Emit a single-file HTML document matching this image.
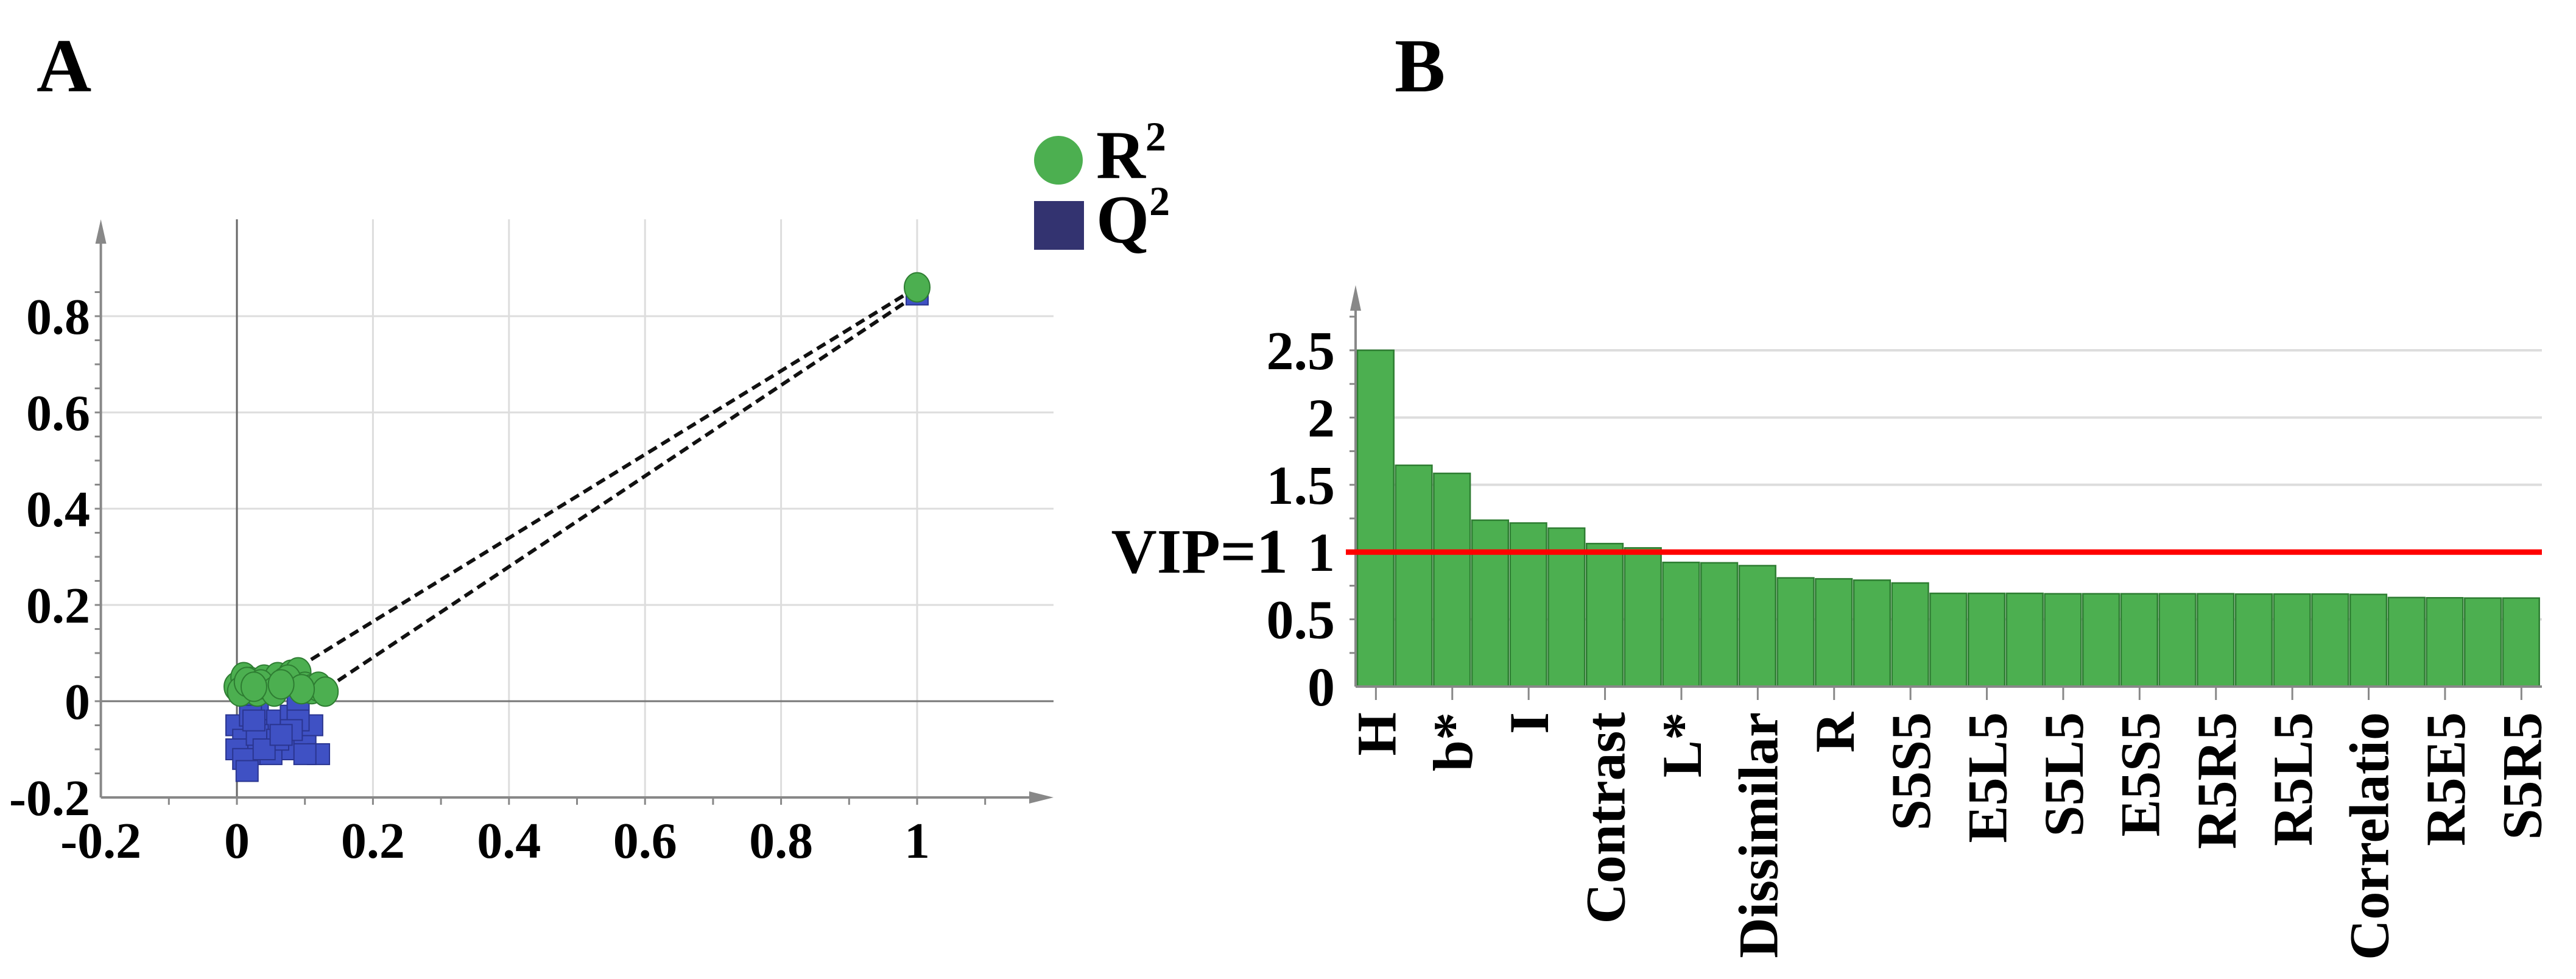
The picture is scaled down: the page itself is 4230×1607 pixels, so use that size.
<!DOCTYPE html>
<html><head><meta charset="utf-8">
<style>
html,body{margin:0;padding:0;background:#fff;}
svg{display:block;font-family:"Liberation Serif",serif;font-weight:bold;}
</style></head>
<body>
<svg id="svg" width="4230" height="1607" viewBox="0 0 4230 1607" xmlns="http://www.w3.org/2000/svg">
<text x="60" y="150" font-size="125">A</text>
<text x="2290" y="150" font-size="125">B</text>
<g id="chartA"></g>
<g id="chartB"></g>
<g>
 <g>
  <circle cx="1738" cy="263" r="40" fill="#4caf50"/>
  <text x="1800" y="292" font-size="112">R<tspan font-size="68" dy="-45">2</tspan></text>
 </g>
 <g>
  <rect x="1698" y="330" width="82" height="80" fill="#333370"/>
  <text x="1800" y="398" font-size="112">Q<tspan font-size="68" dy="-45">2</tspan></text>
 </g>
</g>
</svg>
<script>
const NS='http://www.w3.org/2000/svg';
function mk(tag,attrs,parent){const e=document.createElementNS(NS,tag);for(const k in attrs)e.setAttribute(k,attrs[k]);parent.appendChild(e);return e;}

// ---------- Chart A data ----------
const r2X=[0.0,0.01,0.02,0.03,0.04,0.05,0.06,0.07,0.08,0.09,0.1,0.11,0.12,0.13,0.005,0.015,0.035,0.055,0.075,0.095,0.025,0.065,1.0];
const r2Y=[0.03,0.05,0.04,0.02,0.045,0.03,0.05,0.04,0.055,0.06,0.03,0.025,0.03,0.02,0.02,0.04,0.035,0.02,0.045,0.025,0.03,0.035,0.86];
const q2X=[0.0,0.01,0.02,0.03,0.04,0.05,0.06,0.07,0.08,0.09,0.1,0.11,0.12,0.0,0.01,0.02,0.03,0.05,0.06,0.09,0.1,0.015,0.04,0.08,0.025,0.065,1.0];
const q2Y=[-0.05,-0.08,-0.11,-0.02,-0.06,-0.09,-0.04,-0.1,-0.03,0.0,-0.07,-0.05,-0.11,-0.1,-0.12,-0.03,-0.07,-0.11,-0.08,-0.04,-0.11,-0.145,-0.1,-0.06,-0.04,-0.07,0.845];
const xTicksA=[-0.2,0,0.2,0.4,0.6,0.8,1];
const yTicksA=[-0.2,0,0.2,0.4,0.6,0.8];
const lineR2=[[0.09,0.07],[1.0,0.86]];
const lineQ2=[[0.13,0.025],[1.0,0.845]];

const ax=v=>389+(v)*1117;
const ay=v=>1151-v*790;
const A=document.getElementById('chartA');
for(const t of [0.2,0.4,0.6,0.8,1]){const l=mk('line',{x1:ax(t),x2:ax(t),y1:ay(-0.2),y2:360,stroke:'#ddd','stroke-width':3},A);
}
for(const t of [0.2,0.4,0.6,0.8]){const l=mk('line',{x1:ax(-0.2),x2:1730,y1:ay(t),y2:ay(t),stroke:'#ddd','stroke-width':3},A);
}
mk('line',{x1:ax(0),x2:ax(0),y1:360,y2:ay(-0.2),stroke:'#666','stroke-width':3},A);
mk('line',{x1:ax(-0.2),x2:1730,y1:ay(0),y2:ay(0),stroke:'#777','stroke-width':3},A);
const yaxA=mk('line',{x1:ax(-0.2),x2:ax(-0.2),y1:ay(-0.2),y2:375,stroke:'#888','stroke-width':4},A);

mk('polygon',{points:`${ax(-0.2)-9},${400} ${ax(-0.2)+9},${400} ${ax(-0.2)},${360}`,fill:'#888'},A);
const xaxA=mk('line',{x1:ax(-0.2),x2:1700,y1:ay(-0.2),y2:ay(-0.2),stroke:'#888','stroke-width':4},A);

mk('polygon',{points:`1690,${ay(-0.2)-10} 1690,${ay(-0.2)+10} 1730,${ay(-0.2)}`,fill:'#888'},A);
for(let v=-0.1;v<=1.15;v+=0.1){mk('line',{x1:ax(v),x2:ax(v),y1:ay(-0.2),y2:ay(-0.2)+12,stroke:'#888','stroke-width':3},A);}
for(let v=-0.15;v<=0.9;v+=0.05){mk('line',{x1:ax(-0.2)-10,x2:ax(-0.2),y1:ay(v),y2:ay(v),stroke:'#888','stroke-width':3},A);}
for(const t of xTicksA){const e=mk('text',{x:ax(t),y:1408,'font-size':84,'text-anchor':'middle'},A);e.textContent=String(t);
}
for(const t of yTicksA){const e=mk('text',{x:148,y:ay(t)+29,'font-size':84,'text-anchor':'end'},A);e.textContent=String(t);
}
for(const L of [lineR2,lineQ2]){const e=mk('line',{x1:ax(L[0][0]),y1:ay(L[0][1]),x2:ax(L[1][0]),y2:ay(L[1][1]),stroke:'#111','stroke-width':6,'stroke-dasharray':'16 9'},A);
}
for(let i=0;i<q2X.length;i++){const e=mk('rect',{x:ax(q2X[i])-18,y:ay(q2Y[i])-17,width:36,height:34,fill:'#3f51c4',stroke:'#2a3590','stroke-width':2},A);
}
for(let i=0;i<r2X.length;i++){const e=mk('ellipse',{cx:ax(r2X[i]),cy:ay(r2Y[i]),rx:21,ry:24,fill:'#4caf50',stroke:'#2e7d32','stroke-width':2},A);
}

// ---------- Chart B data ----------
const vipValues=[2.5,1.645,1.585,1.237,1.216,1.178,1.063,1.031,0.923,0.92,0.899,0.808,0.801,0.791,0.77,0.693,0.693,0.693,0.69,0.69,0.69,0.69,0.69,0.688,0.688,0.688,0.685,0.662,0.66,0.658,0.658];
const vipLabels=['H','','b*','','I','','Contrast','','L*','','Dissimilar','','R','','S5S5','','E5L5','','S5L5','','E5S5','','R5R5','','R5L5','','Correlatio','','R5E5','','S5R5'];
const yTicksB=[0,0.5,1,1.5,2,2.5];
const vipThreshold=1.0;

const bx0=2228,bw=62.7;
const by=v=>1127-v*220.8;
const B=document.getElementById('chartB');
for(const t of [0.5,1,1.5,2,2.5]){const l=mk('line',{x1:2226,x2:4174,y1:by(t),y2:by(t),stroke:'#ddd','stroke-width':4},B);
}
for(let i=0;i<vipValues.length;i++){const e=mk('rect',{x:bx0+i*bw+1,y:by(vipValues[i]),width:bw-3,height:by(0)-by(vipValues[i]),fill:'#4caf50',stroke:'#2e7d32','stroke-width':2.5},B);

if(vipLabels[i]){const cx=bx0+i*bw+bw/2;
mk('line',{x1:cx,x2:cx,y1:by(0),y2:by(0)+22,stroke:'#888','stroke-width':3},B);
const t=mk('text',{x:0,y:0,'font-size':92,'text-anchor':'end',transform:`translate(${cx+32},${by(0)+42}) rotate(-90)`},B);
t.textContent=vipLabels[i];}}
const yb=mk('line',{x1:2226,x2:2226,y1:by(0),y2:490,stroke:'#888','stroke-width':4},B);

mk('polygon',{points:`2217,510 2235,510 2226,468`,fill:'#888'},B);
mk('line',{x1:2226,x2:4174,y1:by(0),y2:by(0),stroke:'#888','stroke-width':4},B);
for(let v=0.25;v<=2.75;v+=0.25){mk('line',{x1:2216,x2:2226,y1:by(v),y2:by(v),stroke:'#888','stroke-width':3},B);}
for(const t of yTicksB){const e=mk('text',{x:2192,y:by(t)+31,'font-size':90,'text-anchor':'end'},B);e.textContent=String(t);
}
const rl=mk('line',{x1:2210,x2:4174,y1:by(vipThreshold),y2:by(vipThreshold),stroke:'#ff0000','stroke-width':9},B);

const vt=mk('text',{x:2115,y:by(vipThreshold)+34,'font-size':104,'text-anchor':'end'},B);vt.textContent='VIP=1';

</script>
</body></html>
